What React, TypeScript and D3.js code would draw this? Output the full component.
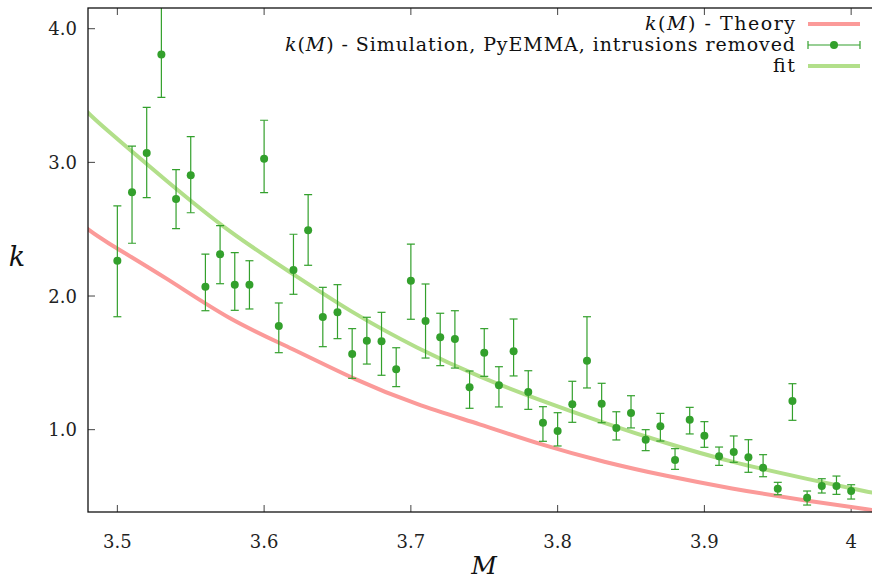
import React from "react";
import * as d3 from "d3";

const simM = [3.50, 3.51, 3.52, 3.53, 3.54, 3.55, 3.56, 3.57, 3.58, 3.59, 3.60, 3.61, 3.62, 3.63, 3.64, 3.65, 3.66, 3.67, 3.68, 3.69, 3.70, 3.71, 3.72, 3.73, 3.74, 3.75, 3.76, 3.77, 3.78, 3.79, 3.80, 3.81, 3.82, 3.83, 3.84, 3.85, 3.86, 3.87, 3.88, 3.89, 3.90, 3.91, 3.92, 3.93, 3.94, 3.95, 3.96, 3.97, 3.98, 3.99, 4.00];
const simK = [2.264, 2.776, 3.070, 3.808, 2.726, 2.903, 2.070, 2.312, 2.085, 2.085, 3.027, 1.776, 2.195, 2.492, 1.843, 1.878, 1.566, 1.666, 1.661, 1.452, 2.115, 1.813, 1.691, 1.678, 1.317, 1.576, 1.332, 1.586, 1.282, 1.052, 0.990, 1.190, 1.516, 1.194, 1.013, 1.125, 0.925, 1.025, 0.773, 1.075, 0.955, 0.801, 0.833, 0.793, 0.716, 0.558, 1.215, 0.491, 0.579, 0.579, 0.541];
const simLow = [1.845, 2.395, 2.736, 3.487, 2.504, 2.623, 1.890, 2.092, 1.893, 1.903, 2.773, 1.576, 2.013, 2.230, 1.621, 1.681, 1.384, 1.491, 1.407, 1.322, 1.826, 1.536, 1.479, 1.461, 1.160, 1.399, 1.170, 1.402, 1.152, 0.913, 0.878, 1.055, 1.312, 1.052, 0.923, 1.013, 0.843, 0.915, 0.703, 0.968, 0.868, 0.733, 0.756, 0.681, 0.648, 0.513, 1.070, 0.436, 0.526, 0.516, 0.481];
const simHigh = [2.674, 3.122, 3.412, 4.200, 2.945, 3.192, 2.314, 2.526, 2.324, 2.264, 3.315, 1.948, 2.462, 2.758, 2.065, 2.085, 1.756, 1.841, 1.878, 1.613, 2.389, 2.090, 1.871, 1.890, 1.439, 1.756, 1.471, 1.828, 1.441, 1.172, 1.127, 1.362, 1.845, 1.347, 1.134, 1.254, 1.000, 1.122, 0.858, 1.167, 1.060, 0.870, 0.953, 0.925, 0.813, 0.606, 1.344, 0.541, 0.633, 0.653, 0.588];

const curveM = [3.47, 3.48, 3.488, 3.534, 3.577, 3.619, 3.662, 3.704, 3.747, 3.789, 3.832, 3.874, 3.917, 3.971, 4.014, 4.03];
const theoryK = [2.58, 2.50, 2.432, 2.133, 1.815, 1.609, 1.372, 1.185, 1.042, 0.885, 0.756, 0.653, 0.561, 0.466, 0.399, 0.378];
const fitK = [3.49, 3.369, 3.287, 2.855, 2.469, 2.170, 1.860, 1.610, 1.392, 1.215, 1.048, 0.898, 0.760, 0.629, 0.528, 0.497];

const xTicks = [3.5, 3.6, 3.7, 3.8, 3.9, 4.0];
const xTickLabels = ["3.5", "3.6", "3.7", "3.8", "3.9", "4"];
const yTicks = [1.0, 2.0, 3.0, 4.0];
const yTickLabels = ["1.0", "2.0", "3.0", "4.0"];

const RED = "#fb9a99";
const LGREEN = "#b2df8a";
const DGREEN = "#33a02c";
const FONT = "DejaVu Serif";

export default function App() {
  const W = 872, H = 581;
  const left = 88, top = 8, bottom = 512, right = 880.5;
  const x = d3.scaleLinear().domain([3.48, 4.02]).range([left, right]);
  const y = d3.scaleLinear().domain([0.384, 4.155]).range([bottom, top]);

  const mkPath = (vals: number[]) =>
    d3.line<number>()
      .x((_, i) => x(curveM[i]))
      .y((d) => y(d))
      .curve(d3.curveBasis)(vals) || "";
  const theoryPath = mkPath(theoryK);
  const fitPath = mkPath(fitK);

  const tickLen = 7;

  return (
    <svg width={W} height={H} style={{ position: "absolute", left: 0, top: 0, background: "#fff" }}>
      <defs>
        <clipPath id="plotclip">
          <rect x={left} y={top} width={right - left} height={bottom - top} />
        </clipPath>
      </defs>
      <rect x={0} y={0} width={W} height={H} fill="#fff" />

      {xTicks.map((t, i) => (
        <g key={"xt" + i}>
          <line x1={x(t)} x2={x(t)} y1={bottom} y2={bottom - tickLen} stroke="#444" strokeWidth={1} />
          <line x1={x(t)} x2={x(t)} y1={top} y2={top + tickLen} stroke="#444" strokeWidth={1} />
          <text x={x(t)} y={548} textAnchor="middle" fontFamily={FONT} fontSize={18} fill="#222">{xTickLabels[i]}</text>
        </g>
      ))}
      {yTicks.map((t, i) => (
        <g key={"yt" + i}>
          <line x1={left} x2={left + tickLen} y1={y(t)} y2={y(t)} stroke="#444" strokeWidth={1} />
          <line x1={right} x2={right - tickLen} y1={y(t)} y2={y(t)} stroke="#444" strokeWidth={1} />
          <text x={77} y={y(t) + 6.5} textAnchor="end" fontFamily={FONT} fontSize={18} fill="#222">{yTickLabels[i]}</text>
        </g>
      ))}

      <g clipPath="url(#plotclip)">
        <path d={theoryPath} fill="none" stroke={RED} strokeWidth={4} />
        <path d={fitPath} fill="none" stroke={LGREEN} strokeWidth={4} />
        {simM.map((m, i) => (
          <g key={"p" + i}>
            <line x1={x(m)} x2={x(m)} y1={y(simLow[i])} y2={y(simHigh[i])} stroke={DGREEN} strokeWidth={1.2} />
            <line x1={x(m) - 4} x2={x(m) + 4} y1={y(simLow[i])} y2={y(simLow[i])} stroke={DGREEN} strokeWidth={1.2} />
            <line x1={x(m) - 4} x2={x(m) + 4} y1={y(simHigh[i])} y2={y(simHigh[i])} stroke={DGREEN} strokeWidth={1.2} />
            <circle cx={x(m)} cy={y(simK[i])} r={4} fill={DGREEN} />
          </g>
        ))}
      </g>

      <rect x={left} y={top} width={right - left} height={bottom - top} fill="none" stroke="#111" strokeWidth={1.3} />

      <g fontFamily={FONT} fontSize={19} fill="#111">
        <text x={795} y={30} textAnchor="end" textLength={150} lengthAdjust="spacing">
          <tspan fontStyle="italic">k</tspan>(<tspan fontStyle="italic">M</tspan>) - Theory
        </text>
        <line x1={808} x2={860} y1={24} y2={24} stroke={RED} strokeWidth={4} />
        <text x={795} y={51} textAnchor="end" textLength={510} lengthAdjust="spacing">
          <tspan fontStyle="italic">k</tspan>(<tspan fontStyle="italic">M</tspan>) - Simulation, PyEMMA, intrusions removed
        </text>
        <line x1={808} x2={860} y1={45} y2={45} stroke={DGREEN} strokeWidth={1.2} />
        <line x1={808} x2={808} y1={41} y2={49} stroke={DGREEN} strokeWidth={1.2} />
        <line x1={860} x2={860} y1={41} y2={49} stroke={DGREEN} strokeWidth={1.2} />
        <circle cx={834} cy={45} r={4} fill={DGREEN} />
        <text x={795} y={72} textAnchor="end" textLength={22} lengthAdjust="spacing">fit</text>
        <line x1={808} x2={860} y1={66} y2={66} stroke={LGREEN} strokeWidth={4} />
      </g>

      <text x={17} y={266} textAnchor="middle" fontFamily={FONT} fontStyle="italic" fontSize={27} fill="#111">k</text>
      <text x={484} y={574} textAnchor="middle" fontFamily={FONT} fontStyle="italic" fontSize={25} fill="#111">M</text>
    </svg>
  );
}
